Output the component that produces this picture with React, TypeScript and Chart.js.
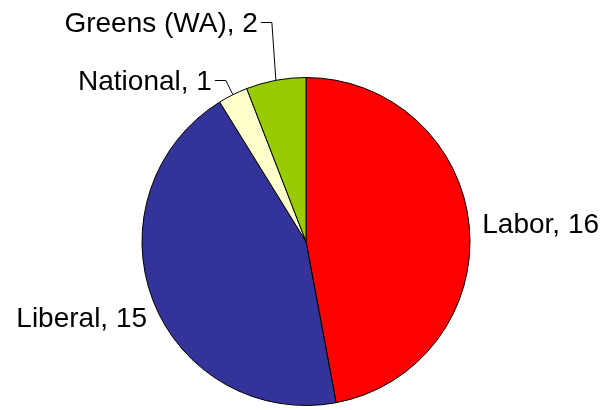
import React, { useEffect, useRef } from "react";
import { Chart, registerables } from "chart.js";

Chart.register(...registerables);

const parties = ["Labor", "Liberal", "National", "Greens (WA)"];
const seats = [16, 15, 1, 2];
const sliceColors = ["#FF0000", "#333399", "#FFFFCC", "#99CC00"];

// label placement relative to the slice's outer-edge midpoint
const labelPlacement = [
  { dx: 13, dy: 7, align: "left", leader: false },
  { dx: -6, dy: 26, align: "right", leader: false },
  { dx: -21, dy: -5, align: "right", leader: true },
  { dx: -18, dy: -48, align: "right", leader: true },
];

const labelPlugin = {
  id: "pieLabels",
  afterDatasetsDraw(chart: any) {
    const ctx = chart.ctx;
    const meta = chart.getDatasetMeta(0);
    const labels = chart.data.labels;
    const values = chart.data.datasets[0].data;
    ctx.save();
    ctx.font = '28px "Liberation Sans", Arial, sans-serif';
    ctx.fillStyle = "#000000";
    ctx.textBaseline = "alphabetic";
    meta.data.forEach((arc: any, i: number) => {
      const { x, y, startAngle, endAngle, outerRadius } = arc.getProps(
        ["x", "y", "startAngle", "endAngle", "outerRadius"],
        true
      );
      const mid = (startAngle + endAngle) / 2;
      const px = x + Math.cos(mid) * outerRadius;
      const py = y + Math.sin(mid) * outerRadius;
      const p = labelPlacement[i];
      const tx = px + p.dx;
      const ty = py + p.dy;
      ctx.textAlign = p.align;
      ctx.fillText(`${labels[i]}, ${values[i]}`, tx, ty);
      if (p.leader) {
        const ly = Math.round(ty - 10) + 0.5;
        ctx.beginPath();
        ctx.strokeStyle = "#000000";
        ctx.lineWidth = 1;
        ctx.moveTo(tx + 3, ly);
        ctx.lineTo(tx + 14, ly);
        ctx.lineTo(px, py);
        ctx.stroke();
      }
    });
    ctx.restore();
  },
};

export default function App() {
  const ref = useRef<HTMLCanvasElement | null>(null);
  useEffect(() => {
    if (!ref.current) return;
    const chart = new Chart(ref.current, {
      type: "pie",
      data: {
        labels: parties,
        datasets: [
          {
            data: seats,
            backgroundColor: sliceColors,
            borderColor: "#000000",
            borderWidth: 1,
          },
        ],
      },
      options: {
        animation: false,
        responsive: true,
        maintainAspectRatio: false,
        layout: { padding: { left: 141, right: 131, top: 77, bottom: 4 } },
        plugins: {
          legend: { display: false },
          tooltip: { enabled: false },
        },
      },
      plugins: [labelPlugin],
    });
    return () => chart.destroy();
  }, []);
  return (
    <div
      style={{
        position: "absolute",
        left: 0,
        top: 0,
        width: 602,
        height: 410,
        background: "#ffffff",
      }}
    >
      <canvas ref={ref} />
    </div>
  );
}
